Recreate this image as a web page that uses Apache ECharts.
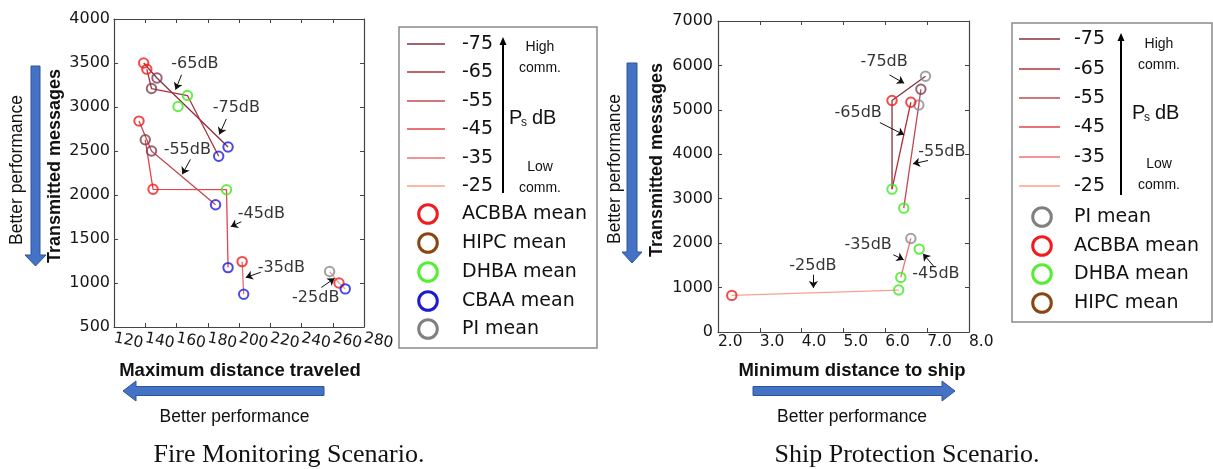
<!DOCTYPE html>
<html><head><meta charset="utf-8">
<script src="https://cdn.jsdelivr.net/npm/echarts@6/dist/echarts.min.js"></script>
<style>html,body{margin:0;padding:0;background:#fff}#c{width:1213px;height:469px}</style>
</head><body><div id="c"></div>
<script>
// ---------------- DATA ----------------
// Axis ranges [min, max, step]
const fireXRange = [120, 280, 20];
const fireYRange = [500, 4000, 500];
const shipXRange = [2, 8, 1];
const shipYRange = [0, 7000, 1000];

const dbLevels = ['-75', '-65', '-55', '-45', '-35', '-25'];

// Fire Monitoring Scenario: [maximum distance traveled, transmitted messages]
const fireACBBA = [[139, 3500], [141, 3430], [136, 2840], [145, 2065], [202, 1243], [264, 1000]];
const fireHIPC  = [[147.5, 3330], [144, 3210], [144, 2500], [140, 2627]];
const fireDHBA  = [[161, 3005], [167, 3130], [192, 2060]];
const fireCBAA  = [[193, 2545], [187, 2440], [185, 1890], [193, 1175], [203, 873], [268, 933]];
const firePI    = [[258, 1130]];

// connecting lines per Ps dB level
const fireLine75 = [[139, 3500], [147.5, 3330], [193, 2545]];
const fireLine65 = [[141, 3430], [144, 3210], [167, 3130], [187, 2440]];
const fireLine55 = [[136, 2840], [144, 2500], [185, 1890]];
const fireLine45 = [[140, 2627], [145, 2065], [192, 2060], [193, 1175]];
const fireLine35 = [[202, 1243], [203, 873]];
const fireLine25 = [[258, 1130], [264, 1000], [268, 933]];

// Ship Protection Scenario: [minimum distance to ship, transmitted messages]
const shipPI    = [[6.96, 5756], [6.80, 5111], [6.61, 2106]];
const shipACBBA = [[2.33, 824], [6.16, 5209], [6.61, 5171]];
const shipDHBA  = [[6.16, 3215], [6.44, 2788], [6.81, 1866], [6.37, 1229], [6.32, 944]];
const shipHIPC  = [[6.85, 5464]];

const shipLine75 = [[6.96, 5756], [6.16, 5209], [6.16, 3215]];
const shipLine65 = [[6.61, 5171], [6.16, 3215]];
const shipLine55 = [[6.44, 2788], [6.80, 5111], [6.85, 5464]];
const shipLine45 = [];
const shipLine35 = [[6.37, 1229], [6.61, 2106]];
const shipLine25 = [[2.33, 824], [6.32, 944]];

// annotations: label, label anchor, arrow start, arrow end (data coords)
const fireNotes = [
  ['-65dB', [171.8, 3487], [163.2, 3366], [159.4, 3197]],
  ['-75dB', [198.3, 2989], [191.9, 2865], [187.4, 2687]],
  ['-55dB', [166.9, 2518], [168.9, 2405], [163.7, 2235]],
  ['-45dB', [214.3, 1782], [201.5, 1696], [194.7, 1639]],
  ['-35dB', [227.1, 1171], [213.9, 1122], [204.3, 1062]],
  ['-25dB', [249.1, 828], [252.7, 949], [261.2, 1054]]
];
const shipNotes = [
  ['-75dB', [5.97, 6086], [6.10, 5786], [6.45, 5598]],
  ['-65dB', [5.35, 4924], [5.87, 4714], [6.45, 4437]],
  ['-55dB', [7.35, 4062], [7.02, 3860], [6.66, 3785]],
  ['-35dB', [5.59, 1964], [6.19, 1739], [6.44, 1626]],
  ['-45dB', [7.21, 1312], [7.16, 1476], [6.90, 1761]],
  ['-25dB', [4.27, 1491], [4.28, 1289], [4.28, 989]]
];

const fireLegendNames = ['ACBBA mean', 'HIPC mean', 'DHBA mean', 'CBAA mean', 'PI mean'];
const shipLegendNames = ['PI mean', 'ACBBA mean', 'DHBA mean', 'HIPC mean'];

// ---------------- STYLE ----------------
const dbColors = ['#86303f', '#b0303a', '#c24852', '#e0464a', '#f07070', '#f7a28c'];
const algColors = { ACBBA: '#f21c1c', HIPC: '#7e3d4e', DHBA: '#3fe81f', CBAA: '#1c1ce0', PI: '#8a8a8a' };
const legendColors = { ACBBA: '#f21c1c', HIPC: '#8b4513', DHBA: '#55ee33', CBAA: '#1c1ccc', PI: '#808080' };
const axisColor = '#444';
const tickFont = 'DejaVu Sans';

const chart = echarts.init(document.getElementById('c'));

function axisDef(grid, range, pos, label) {
  return {
    gridIndex: grid, type: 'value', position: pos,
    min: range[0], max: range[1], interval: range[2],
    axisLine: { show: true, onZero: false, lineStyle: { color: axisColor, width: 1.2 } },
    axisTick: { show: true, inside: true, length: 4, lineStyle: { color: axisColor } },
    splitLine: { show: false },
    axisLabel: label ? Object.assign({ color: '#161616', fontFamily: tickFont, showMinLabel: true, showMaxLabel: true,
      formatter: v => String(v) }, label) : { show: false }
  };
}
const xAxes = [
  axisDef(0, fireXRange, 'bottom', { fontSize: 15.5, rotate: -11, margin: 11 }),
  axisDef(0, fireXRange, 'top', null),
  axisDef(1, shipXRange, 'bottom', { fontSize: 15.5, align: 'left', margin: 2, formatter: v => v.toFixed(1) }),
  axisDef(1, shipXRange, 'top', null)
];
const yAxes = [
  axisDef(0, fireYRange, 'left', { fontSize: 16, margin: 4 }),
  axisDef(0, fireYRange, 'right', null),
  axisDef(1, shipYRange, 'left', { fontSize: 16, margin: 5 }),
  axisDef(1, shipYRange, 'right', null)
];

const series = [];
function addLines(lines, ax) {
  lines.forEach((pts, i) => {
    if (!pts.length) return;
    series.push({
      type: 'line', name: dbLevels[i], data: pts, xAxisIndex: ax, yAxisIndex: ax,
      symbol: 'none', z: 2, silent: true,
      lineStyle: { color: dbColors[i], width: 1.3 }
    });
  });
}
function addScatter(name, pts, ax) {
  series.push({
    type: 'scatter', name: name, data: pts, xAxisIndex: ax, yAxisIndex: ax,
    symbol: 'circle', symbolSize: 9.4, z: 3,
    itemStyle: { color: 'rgba(0,0,0,0)', borderColor: algColors[name], borderWidth: 2 }
  });
}
function addNotes(notes, ax) {
  series.push({
    type: 'lines', coordinateSystem: 'cartesian2d', xAxisIndex: ax, yAxisIndex: ax,
    symbol: ['none', 'arrow'], symbolSize: 7, z: 4, silent: true,
    lineStyle: { color: '#111', width: 1, opacity: 1 },
    data: notes.map(n => ({ coords: [n[2], n[3]] }))
  });
  series.push({
    type: 'scatter', xAxisIndex: ax, yAxisIndex: ax, symbolSize: 1, z: 5, silent: true,
    itemStyle: { color: 'rgba(0,0,0,0)' },
    label: { show: true, position: 'inside', formatter: '{b}', fontFamily: tickFont, fontSize: 16, color: '#000' },
    data: notes.map(n => ({ name: n[0], value: n[1] }))
  });
}

addLines([fireLine75, fireLine65, fireLine55, fireLine45, fireLine35, fireLine25], 0);
addScatter('ACBBA', fireACBBA, 0);
addScatter('HIPC', fireHIPC, 0);
addScatter('DHBA', fireDHBA, 0);
addScatter('CBAA', fireCBAA, 0);
addScatter('PI', firePI, 0);
addNotes(fireNotes, 0);

addLines([shipLine75, shipLine65, shipLine55, shipLine45, shipLine35, shipLine25], 2);
addScatter('PI', shipPI, 2);
addScatter('ACBBA', shipACBBA, 2);
addScatter('DHBA', shipDHBA, 2);
addScatter('HIPC', shipHIPC, 2);
addNotes(shipNotes, 2);

// ---------------- GRAPHIC (legends, titles, arrows) ----------------
const blue = '#4472c4', blueEdge = '#2f5597';
const g = [];
function txt(x, y, text, font, opts) {
  g.push(Object.assign({ type: 'text', x: x, y: y, silent: true,
    style: { text: text, font: font, fill: '#111', textAlign: 'center', textVerticalAlign: 'middle' } }, opts || {}));
}
function ltxt(x, y, text, font) {
  g.push({ type: 'text', silent: true, x: x, y: y, style: { text: text, font: font, fill: '#111', textAlign: 'left', textVerticalAlign: 'middle' } });
}
function poly(points) {
  g.push({ type: 'polygon', silent: true, shape: { points: points }, style: { fill: blue, stroke: blueEdge, lineWidth: 1 } });
}
// side labels
txt(17, 170, 'Better performance', '17.5px "Liberation Sans"', { rotation: Math.PI / 2 });
txt(55.5, 166, 'Transmitted messages', 'bold 18px "Liberation Sans"', { rotation: Math.PI / 2 });
txt(615, 169, 'Better performance', '17.5px "Liberation Sans"', { rotation: Math.PI / 2 });
txt(657, 160, 'Transmitted messages', 'bold 18px "Liberation Sans"', { rotation: Math.PI / 2 });
poly([[31, 66], [40, 66], [40, 255], [46, 255], [35.5, 266], [25, 255], [31, 255]]);
poly([[627, 63], [637, 63], [637, 252], [642, 252], [632, 263], [622, 252], [627, 252]]);
// bottom labels
txt(240, 371, 'Maximum distance traveled', 'bold 18.5px "Liberation Sans"');
txt(852, 371, 'Minimum distance to ship', 'bold 18.5px "Liberation Sans"');
poly([[123, 391], [136, 381], [136, 386.5], [324, 386.5], [324, 395.5], [136, 395.5], [136, 401]]);
poly([[753, 386.5], [942, 386.5], [942, 381], [955, 391], [942, 401], [942, 395.5], [753, 395.5]]);
txt(234.5, 417, 'Better performance', '17.5px "Liberation Sans"');
txt(852, 417, 'Better performance', '17.5px "Liberation Sans"');
txt(289, 455, 'Fire Monitoring Scenario.', '26px "Liberation Serif"');
txt(907, 455, 'Ship Protection Scenario.', '26px "Liberation Serif"');

function legend(box, lineX, dbY, labelX, arrowX, arrowY, noteX, noteY, psX, psY, markX, markY, names) {
  g.push({ type: 'rect', silent: true, shape: box, style: { fill: '#fff', stroke: '#8a8a8a', lineWidth: 1.5 } });
  dbLevels.forEach((d, i) => {
    g.push({ type: 'line', silent: true, shape: { x1: lineX[0], y1: dbY[i], x2: lineX[1], y2: dbY[i] }, style: { stroke: dbColors[i], lineWidth: 1.5 } });
    ltxt(labelX, dbY[i], d, '19px "DejaVu Sans"');
  });
  g.push({ type: 'line', silent: true, shape: { x1: arrowX, y1: arrowY[0], x2: arrowX, y2: arrowY[1] + 6 }, style: { stroke: '#000', lineWidth: 2 } });
  g.push({ type: 'polygon', silent: true, shape: { points: [[arrowX - 3.5, arrowY[1] + 8], [arrowX + 3.5, arrowY[1] + 8], [arrowX, arrowY[1]]] }, style: { fill: '#000' } });
  txt(noteX, noteY[0], 'High', '14px "Liberation Sans"');
  txt(noteX, noteY[1], 'comm.', '14px "Liberation Sans"');
  txt(noteX, noteY[2], 'Low', '14px "Liberation Sans"');
  txt(noteX, noteY[3], 'comm.', '14px "Liberation Sans"');
  const f = '20px "Liberation Sans"';
  ltxt(psX, psY, 'P', f);
  ltxt(psX + 12, psY + 5, 's', '12px "Liberation Sans"');
  ltxt(psX + 23, psY, 'dB', f);
  names.forEach((n, i) => {
    const key = n.split(' ')[0];
    g.push({ type: 'circle', silent: true, shape: { cx: markX, cy: markY[i], r: 9.3 }, style: { fill: 'none', stroke: legendColors[key], lineWidth: 3 } });
    ltxt(labelX, markY[i], n, '19px "DejaVu Sans"');
  });
}
legend({ x: 399, y: 27, width: 198, height: 321 }, [407, 445], [44, 72, 101, 129, 158, 186], 462,
  503, [193, 37], 540, [47, 68, 167, 188], 509, 118, 428, [214, 243, 272, 301, 329], fireLegendNames);
legend({ x: 1012, y: 23, width: 200, height: 299 }, [1019, 1060], [39, 69, 98, 127, 157, 186], 1074,
  1121, [195, 33], 1159, [44, 65, 164, 185], 1132, 113, 1042, [217, 246, 274, 303], shipLegendNames);

chart.setOption({
  animation: false,
  backgroundColor: '#fff',
  grid: [
    { left: 114, top: 19, width: 250, height: 308, outerBoundsMode: 'none', containLabel: false },
    { left: 718, top: 21, width: 251, height: 311, outerBoundsMode: 'none', containLabel: false }
  ],
  xAxis: xAxes,
  yAxis: yAxes,
  series: series,
  graphic: { elements: g }
});
</script>
</body></html>
